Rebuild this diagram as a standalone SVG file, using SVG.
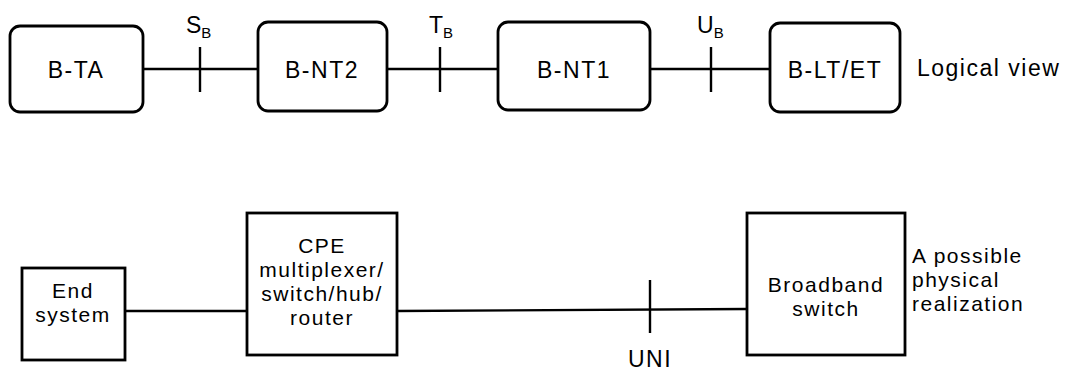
<svg xmlns="http://www.w3.org/2000/svg" width="1092" height="371" viewBox="0 0 1092 371">
<style>
.box{fill:#fff;stroke:#000;stroke-width:2.8}
.ln{stroke:#000;stroke-width:2.4;fill:none}
.tk{stroke:#000;stroke-width:2.4}
text{font-family:"Liberation Sans",Arial,sans-serif;font-size:21px;letter-spacing:1.5px;fill:#000}
.big{font-size:23px}
.c{text-anchor:middle}
.sub{font-size:15px;letter-spacing:0}
</style>
<rect width="1092" height="371" fill="#fff"/>
<g id="connectors">
<line class="ln" x1="143" y1="69" x2="258" y2="69"/>
<line class="ln" x1="387" y1="69" x2="498" y2="69"/>
<line class="ln" x1="650" y1="69" x2="770" y2="69"/>
<line class="tk" x1="200" y1="47" x2="200" y2="92"/>
<line class="tk" x1="440" y1="47" x2="440" y2="92"/>
<line class="tk" x1="711" y1="47" x2="711" y2="92"/>
<line class="ln" x1="125" y1="311" x2="247" y2="311"/>
<line class="ln" x1="397" y1="311" x2="747" y2="309"/>
<line class="tk" x1="650" y1="280" x2="650" y2="333"/>
</g>
<g id="label-SB"><text class="big" x="186" y="33" style="letter-spacing:0">S<tspan class="sub" dy="5">B</tspan></text></g>
<g id="label-TB"><text class="big" x="429" y="33" style="letter-spacing:0">T<tspan class="sub" dy="5">B</tspan></text></g>
<g id="label-UB"><text class="big" x="697" y="33" style="letter-spacing:0">U<tspan class="sub" dy="5">B</tspan></text></g>
<g id="b-ta"><rect class="box" x="10" y="26" width="133" height="86" rx="10"/><text class="c big" x="76" y="78">B-TA</text></g>
<g id="b-nt2"><rect class="box" x="258" y="22" width="129" height="89" rx="10"/><text class="c big" x="322" y="78">B-NT2</text></g>
<g id="b-nt1"><rect class="box" x="498" y="22" width="152" height="88" rx="10"/><text class="c big" x="574" y="78">B-NT1</text></g>
<g id="b-lt-et"><rect class="box" x="770" y="23" width="130" height="89" rx="10"/><text class="c big" x="835" y="78">B-LT/ET</text></g>
<g id="logical-view"><text class="big" x="917" y="76">Logical view</text></g>
<g id="end-system"><rect class="box" x="22" y="268" width="103" height="92"/><text class="c" x="73" y="298">End</text><text class="c" x="73" y="322">system</text></g>
<g id="cpe"><rect class="box" x="247" y="213" width="150" height="142"/><text class="c" x="322" y="253">CPE</text><text class="c" x="322" y="277">multiplexer/</text><text class="c" x="322" y="301">switch/hub/</text><text class="c" x="322" y="325">router</text></g>
<g id="broadband-switch"><rect class="box" x="747" y="213" width="158" height="142"/><text class="c" x="826" y="292">Broadband</text><text class="c" x="826" y="316">switch</text></g>
<g id="label-UNI"><text class="c big" x="650" y="367">UNI</text></g>
<g id="physical"><text x="912" y="263">A possible</text><text x="912" y="287">physical</text><text x="912" y="311">realization</text></g>
</svg>
